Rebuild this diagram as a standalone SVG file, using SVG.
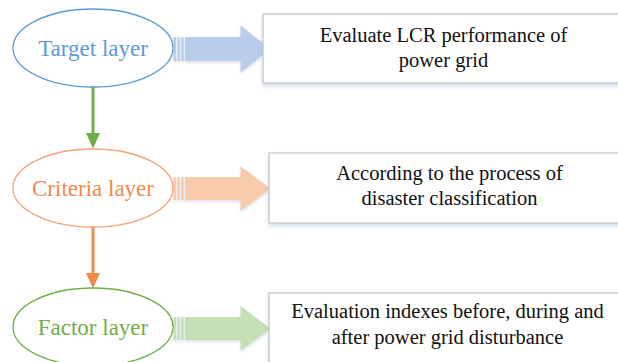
<svg xmlns="http://www.w3.org/2000/svg" width="618" height="362" viewBox="0 0 618 362">
  <style>
    .layer { fill: #ffffff; stroke-width: 1.3; }
    .ltxt { font-family: "Liberation Serif", "Times New Roman", serif; font-size: 23px; text-anchor: middle; }
    .box { fill: #ffffff; stroke: #c6c6c6; stroke-width: 1.3; filter: url(#boxShadow); }
    .btxt { font-family: "Liberation Serif", "Times New Roman", serif; font-size: 20.5px; fill: #111111; text-anchor: middle; }
    .blk { filter: url(#arrowShadow); }
  </style>
  <defs>
    <filter id="boxShadow" x="-5%" y="-20%" width="110%" height="150%">
      <feGaussianBlur in="SourceAlpha" stdDeviation="2"/>
      <feOffset dx="0" dy="3" result="b"/>
      <feFlood flood-color="#8fa6c4" flood-opacity="0.35"/>
      <feComposite in2="b" operator="in"/>
      <feMerge><feMergeNode/><feMergeNode in="SourceGraphic"/></feMerge>
    </filter>
    <filter id="arrowShadow" x="-10%" y="-20%" width="120%" height="150%">
      <feGaussianBlur in="SourceAlpha" stdDeviation="1.5"/>
      <feOffset dx="0" dy="2" result="b"/>
      <feFlood flood-color="#8fa6c4" flood-opacity="0.3"/>
      <feComposite in2="b" operator="in"/>
      <feMerge><feMergeNode/><feMergeNode in="SourceGraphic"/></feMerge>
    </filter>
    <!-- striped block arrow, drawn with its body centred on y=0 -->
    <g id="blockArrow">
      <rect x="0" y="-11.5" width="2.6" height="23"/>
      <rect x="3.9" y="-11.5" width="2.4" height="23"/>
      <rect x="7.6" y="-11.5" width="2.6" height="23"/>
      <polygon points="11.5,-11.5 67,-11.5 67,-22.5 97,0 67,22.5 67,11.5 11.5,11.5"/>
    </g>
  </defs>

  <!-- connectors between layers -->
  <g id="connectors">
    <line x1="93" y1="87" x2="93" y2="134" stroke="#70ad47" stroke-width="3"/>
    <polygon points="86,133 100,133 93,148.5" fill="#70ad47"/>
    <line x1="93" y1="227" x2="93" y2="274" stroke="#f08a4b" stroke-width="3"/>
    <polygon points="86,273 100,273 93,288.5" fill="#f08a4b"/>
  </g>

  <!-- block arrows from layers to descriptions -->
  <g id="arrows">
    <use href="#blockArrow" class="blk" transform="translate(173.5,49) scale(1,1.04)" fill="#b8cde9"/>
    <use href="#blockArrow" class="blk" transform="translate(173.5,188.5) scale(1,1)" fill="#f8cbad"/>
    <use href="#blockArrow" class="blk" transform="translate(173.5,328.5) scale(1,1)" fill="#c5e0b4"/>
  </g>

  <g id="target-layer">
    <ellipse class="layer" cx="93" cy="48" rx="80" ry="39" stroke="#5b9bd5"/>
    <text class="ltxt" x="93" y="56" fill="#5b9bd5">Target layer</text>
  </g>

  <g id="criteria-layer">
    <ellipse class="layer" cx="93" cy="188" rx="80" ry="39" stroke="#f4a475"/>
    <text class="ltxt" x="93" y="196" fill="#f08a4b">Criteria layer</text>
  </g>

  <g id="factor-layer">
    <ellipse class="layer" cx="93" cy="327" rx="80" ry="39" stroke="#70ad47"/>
    <text class="ltxt" x="93" y="335" fill="#70ad47">Factor layer</text>
  </g>

  <g id="target-desc">
    <rect class="box" x="263" y="14" width="361" height="69"/>
    <text class="btxt" x="443.5" y="42">Evaluate LCR performance of</text>
    <text class="btxt" x="443.5" y="67">power grid</text>
  </g>

  <g id="criteria-desc">
    <rect class="box" x="269" y="153" width="361" height="70"/>
    <text class="btxt" x="449.5" y="180">According to the process of</text>
    <text class="btxt" x="449.5" y="205">disaster classification</text>
  </g>

  <g id="factor-desc">
    <rect class="box" x="269" y="293" width="361" height="70"/>
    <text class="btxt" x="447.5" y="318">Evaluation indexes before, during and</text>
    <text class="btxt" x="447.5" y="344">after power grid disturbance</text>
  </g>
</svg>
